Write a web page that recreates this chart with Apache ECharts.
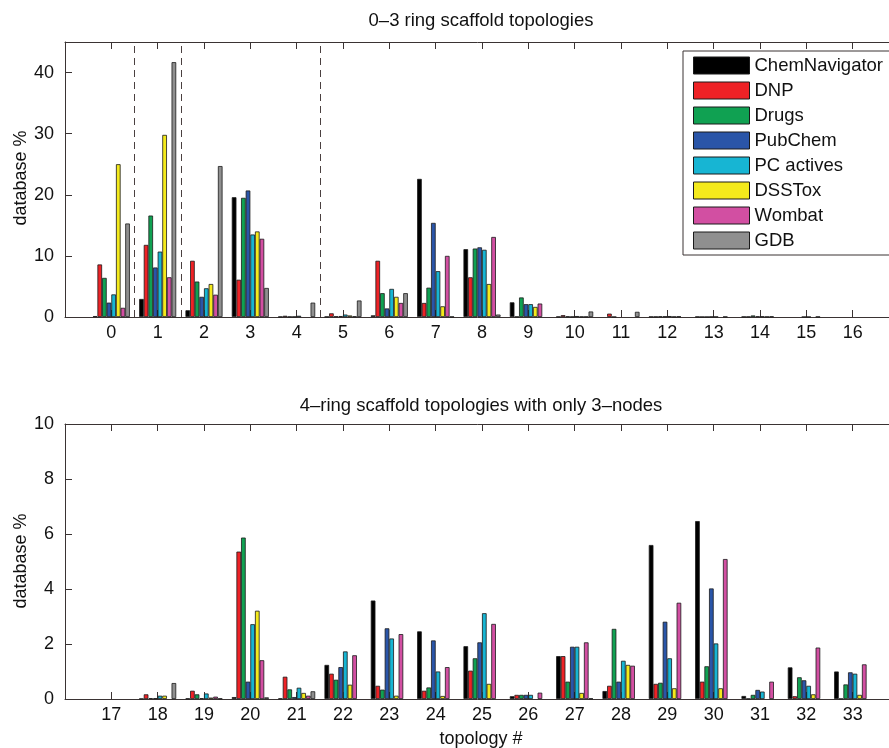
<!DOCTYPE html>
<html>
<head>
<meta charset="utf-8">
<script src="https://cdn.jsdelivr.net/npm/echarts@6/dist/echarts.min.js"></script>
<style>
html,body{margin:0;padding:0;background:#fff;overflow:hidden;}
#chart{width:889px;height:748px;}
</style>
</head>
<body>
<div id="chart"></div>
<script>
// ---------- data ----------
const seriesNames = ['ChemNavigator', 'DNP', 'Drugs', 'PubChem', 'PC actives', 'DSSTox', 'Wombat', 'GDB'];
const seriesColors = ['#000000', '#ee2226', '#10a152', '#2a55a8', '#17b5d3', '#f4ea1c', '#d24fa2', '#8f8f8f'];

const topCategories = ['0','1','2','3','4','5','6','7','8','9','10','11','12','13','14','15','16'];
const bottomCategories = ['17','18','19','20','21','22','23','24','25','26','27','28','29','30','31','32','33'];

const topTitle = '0\u20133 ring scaffold topologies';
const bottomTitle = '4\u2013ring scaffold topologies with only 3\u2013nodes';
const yLabel = 'database %';
const xLabel = 'topology #';

// dashed separators between topology groups (top panel)
const topDividers = [0.5, 1.5, 4.5];

// top panel values (topologies 0..16)
const chemNavigatorTop = [0.15, 2.95, 1.1, 19.6, 0.05, 0.05, 0.27, 22.6, 11.1, 2.4, 0.05, 0, 0.05, 0.05, 0.05, 0, 0];
const dnpTop           = [8.6, 11.8, 9.2, 6.1, 0.2, 0.6, 9.2, 2.3, 6.5, 0.05, 0.3, 0.55, 0.05, 0.02, 0.05, 0, 0];
const drugsTop         = [6.4, 16.6, 5.8, 19.5, 0.05, 0.1, 3.9, 4.8, 11.2, 3.2, 0.1, 0.02, 0.1, 0.02, 0.25, 0, 0];
const pubChemTop       = [2.35, 8.1, 3.3, 20.7, 0.05, 0.15, 1.4, 15.4, 11.4, 2.1, 0.05, 0, 0.1, 0.05, 0.1, 0.02, 0];
const pcActivesTop     = [3.7, 10.7, 4.7, 13.5, 0.2, 0.4, 4.6, 7.5, 11.0, 2.1, 0.15, 0, 0.15, 0.05, 0.1, 0.02, 0];
const dssToxTop        = [25.0, 29.8, 5.4, 14.0, 0, 0.25, 3.3, 1.75, 5.4, 1.65, 0.05, 0, 0.05, 0, 0.05, 0, 0];
const wombatTop        = [1.5, 6.5, 3.65, 12.8, 0, 0.1, 2.3, 10.0, 13.1, 2.2, 0.05, 0, 0.1, 0.05, 0.1, 0.05, 0];
const gdbTop           = [15.3, 41.7, 24.7, 4.75, 2.35, 2.7, 3.9, 0.05, 0.4, 0, 0.9, 0.85, 0, 0, 0, 0, 0];

// bottom panel values (topologies 17..33)
const chemNavigatorBottom = [0, 0.01, 0.02, 0.07, 0.02, 1.24, 3.58, 2.46, 1.92, 0.1, 1.56, 0.29, 5.6, 6.47, 0.11, 1.15, 1.0];
const dnpBottom           = [0, 0.17, 0.3, 5.36, 0.81, 0.92, 0.48, 0.3, 1.03, 0.15, 1.56, 0.48, 0.55, 0.63, 0.01, 0.1, 0.01];
const drugsBottom         = [0, 0.03, 0.17, 5.87, 0.35, 0.7, 0.34, 0.42, 1.48, 0.15, 0.63, 2.55, 0.59, 1.19, 0.15, 0.79, 0.53];
const pubChemBottom       = [0, 0.03, 0.03, 0.63, 0.07, 1.16, 2.57, 2.13, 2.06, 0.15, 1.9, 0.63, 2.81, 4.02, 0.33, 0.68, 0.97];
const pcActivesBottom     = [0, 0.12, 0.2, 2.72, 0.41, 1.73, 2.2, 1.0, 3.12, 0.15, 1.9, 1.39, 1.48, 2.02, 0.27, 0.48, 0.92];
const dssToxBottom        = [0, 0.12, 0.05, 3.21, 0.22, 0.52, 0.12, 0.11, 0.55, 0, 0.22, 1.24, 0.39, 0.39, 0, 0.17, 0.15];
const wombatBottom        = [0, 0, 0.085, 1.41, 0.12, 1.59, 2.36, 1.16, 2.73, 0.23, 2.06, 1.21, 3.5, 5.09, 0.63, 1.87, 1.26];
const gdbBottom           = [0, 0.58, 0.02, 0.06, 0.28, 0, 0, 0, 0, 0, 0.02, 0, 0, 0, 0, 0, 0];

const topValues = [chemNavigatorTop, dnpTop, drugsTop, pubChemTop, pcActivesTop, dssToxTop, wombatTop, gdbTop];
const bottomValues = [chemNavigatorBottom, dnpBottom, drugsBottom, pubChemBottom, pcActivesBottom, dssToxBottom, wombatBottom, gdbBottom];

const topYMax = 45, topYStep = 10;
const bottomYMax = 10, bottomYStep = 2;

// ---------- styling ----------
const FONT = '"Liberation Sans", Arial, Helvetica, sans-serif';
const INK = '#111';
const FRAME = '#3a3333';
const FS = 18;
const TITLE_FS = 18.5;

const pad = arr => ['', ...arr, ''];
// zero-height bars draw nothing (as in the original figure)
const padVals = arr => [null, ...arr.map(v => (v === 0 ? null : v)), null];

function catAxis(gridIndex, cats, position, labels) {
  return {
    type: 'category', gridIndex, position,
    data: pad(cats), boundaryGap: false,
    axisLine: { show: true, onZero: false, lineStyle: { color: FRAME, width: 1 } },
    axisTick: { show: true, inside: true, length: 7, interval: 0, lineStyle: { color: FRAME, width: 1 } },
    axisLabel: { show: labels, interval: 0, color: INK, fontSize: FS, fontFamily: FONT, margin: 7 },
    splitLine: { show: false }
  };
}
function valAxis(gridIndex, max, step, position, labels) {
  return {
    type: 'value', gridIndex, position, min: 0, max, interval: step,
    axisLine: { show: true, onZero: false, lineStyle: { color: FRAME, width: 1 } },
    axisTick: { show: true, inside: true, length: 7, lineStyle: { color: FRAME, width: 1 } },
    axisLabel: { show: labels, color: INK, fontSize: FS, fontFamily: FONT, margin: 11, showMaxLabel: max % step === 0 },
    splitLine: { show: false }
  };
}

const series = [];
seriesNames.forEach((name, i) => {
  series.push({
    name, type: 'bar', xAxisIndex: 0, yAxisIndex: 0,
    data: padVals(topValues[i]),
    barGap: '0%', barCategoryGap: '20%',
    itemStyle: { color: seriesColors[i], borderColor: '#1a1a1a', borderWidth: 0.8 },
    emphasis: { disabled: true }
  });
});
seriesNames.forEach((name, i) => {
  series.push({
    name, type: 'bar', xAxisIndex: 3, yAxisIndex: 2,
    data: padVals(bottomValues[i]),
    barGap: '0%', barCategoryGap: '20%',
    itemStyle: { color: seriesColors[i], borderColor: '#1a1a1a', borderWidth: 0.8 },
    emphasis: { disabled: true }
  });
});
series.push({
  type: 'line', xAxisIndex: 2, yAxisIndex: 0, data: [], silent: true,
  markLine: {
    symbol: 'none', silent: true, animation: false,
    label: { show: false },
    lineStyle: { type: [7, 5], color: '#4a4040', width: 1 },
    data: topDividers.map(v => ({ xAxis: v }))
  }
});

const textStyle = (text, extra) => Object.assign({
  text, fill: INK, font: FS + 'px ' + FONT, textAlign: 'center', textVerticalAlign: 'middle'
}, extra || {});

const option = {
  animation: false,
  backgroundColor: '#fff',
  textStyle: { fontFamily: FONT },
  grid: [
    { left: 65, top: 42, width: 834, height: 275, containLabel: false, outerBoundsMode: 'none' },
    { left: 65, top: 424, width: 834, height: 275, containLabel: false, outerBoundsMode: 'none' }
  ],
  xAxis: [
    catAxis(0, topCategories, 'bottom', true),
    catAxis(0, topCategories, 'top', false),
    { type: 'value', gridIndex: 0, min: -1, max: topCategories.length, show: false },
    catAxis(1, bottomCategories, 'bottom', true),
    catAxis(1, bottomCategories, 'top', false)
  ],
  yAxis: [
    valAxis(0, topYMax, topYStep, 'left', true),
    valAxis(0, topYMax, topYStep, 'right', false),
    valAxis(1, bottomYMax, bottomYStep, 'left', true),
    valAxis(1, bottomYMax, bottomYStep, 'right', false)
  ],
  legend: {
    data: seriesNames, orient: 'vertical', left: 683, top: 51,
    itemWidth: 56, itemHeight: 17, itemGap: 6,
    padding: [5, 10, 5, 10],
    borderColor: FRAME, borderWidth: 1, backgroundColor: '#fff',
    icon: 'rect', selectedMode: false,
    itemStyle: { borderColor: '#1a1a1a', borderWidth: 1 },
    textStyle: { color: INK, fontSize: 18.5, fontFamily: FONT, lineHeight: 17 }
  },
  graphic: [
    { type: 'text', x: 481, y: 21, silent: true, style: textStyle(topTitle, { font: TITLE_FS + 'px ' + FONT }) },
    { type: 'text', x: 481, y: 406, silent: true, style: textStyle(bottomTitle, { font: TITLE_FS + 'px ' + FONT }) },
    { type: 'text', x: 21, y: 178, rotation: Math.PI / 2, silent: true, style: textStyle(yLabel) },
    { type: 'text', x: 21, y: 561, rotation: Math.PI / 2, silent: true, style: textStyle(yLabel) },
    { type: 'text', x: 481, y: 739, silent: true, style: textStyle(xLabel) }
  ],
  series
};

const chart = echarts.init(document.getElementById('chart'), null, { renderer: 'canvas' });
chart.setOption(option);
</script>
</body>
</html>
